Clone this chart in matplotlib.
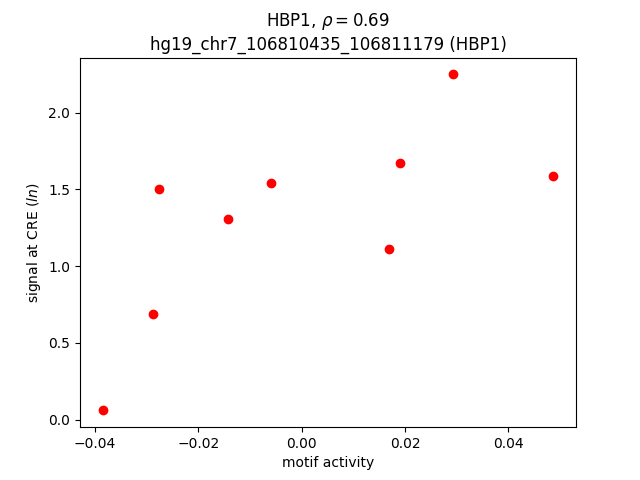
import matplotlib
matplotlib.use("Agg")
import matplotlib.pyplot as plt

# ============================================================
# DATA
# ============================================================

motif_activity = [
    -0.0385, -0.0287, -0.0275, -0.0143, -0.0060,
    0.0169, 0.0190, 0.0293, 0.0487
]

cre_signal = [
    0.06, 0.69, 1.50, 1.31, 1.54,
    1.11, 1.67, 2.25, 1.59
]

gene = "HBP1"
rho = 0.69
region = "hg19_chr7_106810435_106811179"


# ============================================================
# PLOT
# ============================================================

fig, ax = plt.subplots(figsize=(6.4, 4.8), dpi=100)

ax.scatter(
    motif_activity,
    cre_signal,
    c="red"
)

ax.set_xlabel("motif activity")
ax.set_ylabel("signal at CRE ($ln$)")

ax.set_title(
    gene + r", $\rho = " + str(rho) + "$\n" + region + " (" + gene + ")"
)

fig.savefig("out.png", dpi=100)
